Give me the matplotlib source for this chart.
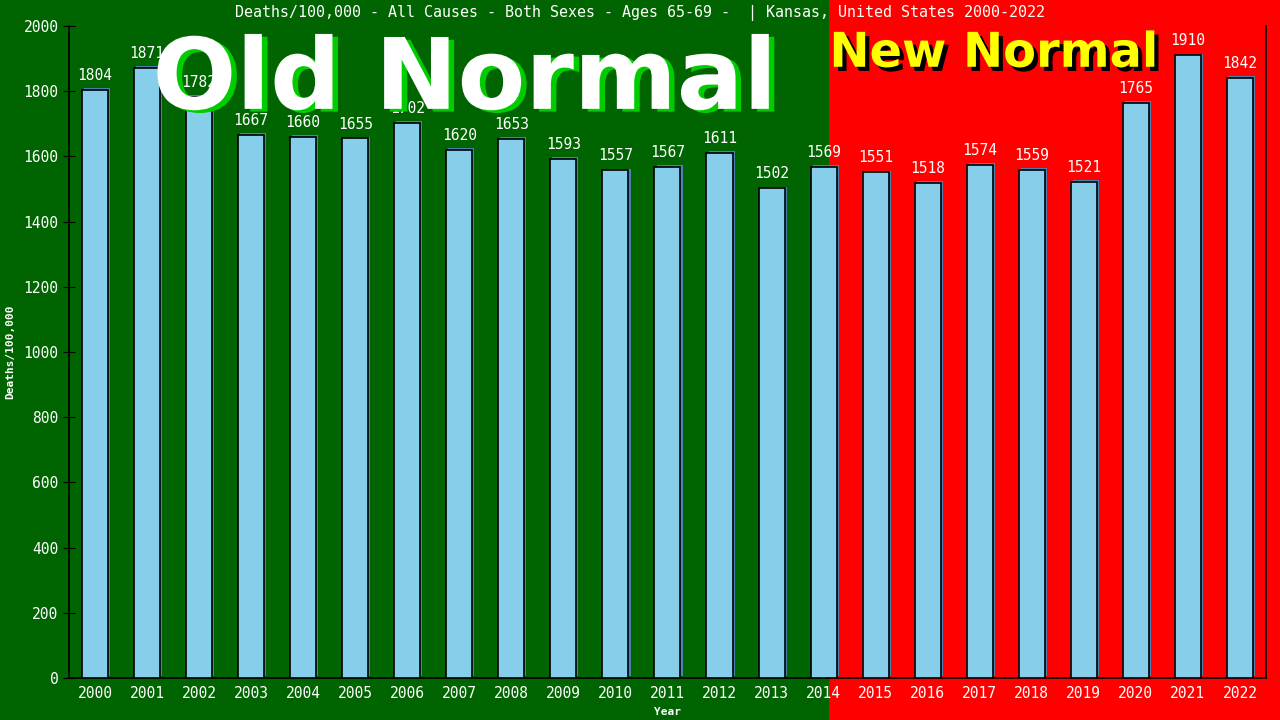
import matplotlib
matplotlib.use('Agg')
import matplotlib.pyplot as plt
import matplotlib.patheffects as pe
from matplotlib.patches import Rectangle

years = list(range(2000, 2023))
deaths = [1804, 1871, 1782, 1667, 1660, 1655, 1702, 1620, 1653, 1593, 1557, 1567,
          1611, 1502, 1569, 1551, 1518, 1574, 1559, 1521, 1765, 1910, 1842]
title = 'Deaths/100,000 - All Causes - Both Sexes - Ages 65-69 -  | Kansas, United States 2000-2022'

mono = 'DejaVu Sans Mono'

fig = plt.figure(figsize=(12.8, 7.2), dpi=100)
fig.patch.set_facecolor('#006400')
# red "new normal" half of the background
fig.patches.append(Rectangle((0.648, 0), 0.352, 1, transform=fig.transFigure,
                             facecolor='#ff0000', edgecolor='none', zorder=-5))

ax = fig.add_axes([0.0539, 0.0583, 0.9351, 0.9056])
ax.set_facecolor('none')

bars = ax.bar(years, deaths, width=0.5, color='#87CEEB', edgecolor='black', linewidth=1.2,
              zorder=3)
for b in bars:
    b.set_path_effects([pe.SimplePatchShadow(offset=(1.5, 1.2), shadow_rgbFace='#4682B4',
                                             alpha=1.0), pe.Normal()])

for b, v in zip(bars, deaths):
    ax.annotate(str(v), xy=(b.get_x() + b.get_width() / 2, v), xytext=(0, 5),
                textcoords='offset points', ha='center', va='bottom',
                color='white', fontsize=10.5, family=mono, zorder=4)

ax.set_xlim(1999.5, 2022.5)
ax.set_ylim(0, 2000)
ax.set_xticks(years)
ax.set_xticklabels([str(y) for y in years])
ax.set_yticks(range(0, 2001, 200))
ax.tick_params(axis='both', colors='black', labelcolor='white', labelsize=10.5)
ax.tick_params(axis='y', direction='inout', length=8)
ax.tick_params(axis='x', length=0, pad=6)
for lab in ax.get_xticklabels() + ax.get_yticklabels():
    lab.set_family(mono)

ax.spines['top'].set_visible(False)
for s in ['left', 'bottom', 'right']:
    ax.spines[s].set_color('black')
    ax.spines[s].set_linewidth(1.2)

ax.set_xlabel('Year', color='white', fontsize=8, fontweight='bold', family=mono, labelpad=4)
ax.set_ylabel('Deaths/100,000', color='white', fontsize=8, fontweight='bold', family=mono,
              labelpad=6)

fig.text(0.5, 0.982, title, ha='center', va='center', color='white', fontsize=10.8,
         family=mono)

fig.text(0.363, 0.887, 'Old Normal', ha='center', va='center', color='white',
         fontsize=71, fontweight='bold', zorder=10,
         path_effects=[pe.withSimplePatchShadow(offset=(4, -2), shadow_rgbFace='#00CC00',
                                                alpha=1.0)])
fig.text(0.648, 0.926, 'New Normal', ha='left', va='center', color='#ffff00',
         fontsize=34.5, fontweight='bold', zorder=10,
         path_effects=[pe.withSimplePatchShadow(offset=(3, -3), shadow_rgbFace='black',
                                                alpha=1.0)])

fig.savefig('out.png', dpi=100, facecolor=fig.get_facecolor())
